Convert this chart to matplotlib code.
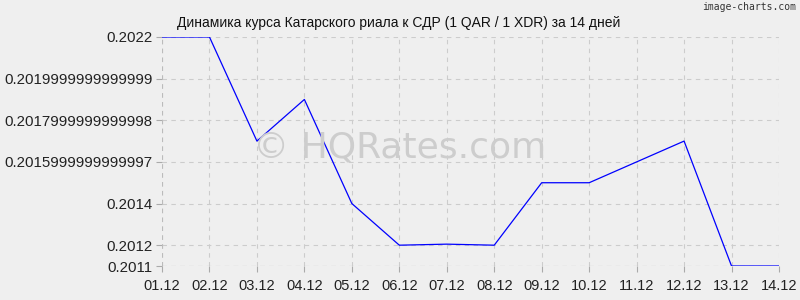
import matplotlib
matplotlib.use("Agg")
import matplotlib.pyplot as plt

# data
dates = ["01.12", "02.12", "03.12", "04.12", "05.12", "06.12", "07.12",
         "08.12", "09.12", "10.12", "11.12", "12.12", "13.12", "14.12"]
rates = [0.2022, 0.2022, 0.2017, 0.2019, 0.2014, 0.2012, 0.201205,
         0.2012, 0.2015, 0.20150, 0.2016, 0.2017, 0.2011, 0.2011]
ytick_vals = [0.2011, 0.2012, 0.2014, 0.2016, 0.2018, 0.2020, 0.2022]
ytick_labels = ["0.2011", "0.2012", "0.2014", "0.2015999999999997",
                "0.2017999999999998", "0.2019999999999999", "0.2022"]
title = "Динамика курса Катарского риала к СДР (1 QAR / 1 XDR) за 14 дней"

plt.rcParams['font.family'] = ['Liberation Sans', 'DejaVu Sans']
bg = "#efefef"

fig = plt.figure(figsize=(8, 3), dpi=100, facecolor=bg)
ax = fig.add_axes([0.2025, 0.1133, 0.77125, 0.7634], facecolor=bg)

x = list(range(len(dates)))
ax.plot(x, rates, color="#0000ff", lw=0.9, zorder=3)

ax.set_xlim(0, len(dates) - 1)
ax.set_ylim(0.2011, 0.2022)
ax.set_xticks(x)
ax.set_xticklabels(dates, fontsize=10.5, color="#222222")
ax.set_yticks(ytick_vals)
ax.set_yticklabels(ytick_labels, fontsize=10.8, color="#222222")

ax.grid(True, color="#cccccc", ls=(0, (4, 4)), lw=0.8)
for s in ax.spines.values():
    s.set_visible(False)
ax.tick_params(axis="y", length=4, color="#aaaaaa", pad=3)
ax.tick_params(axis="x", length=4, color="#aaaaaa", pad=5)
ax.axvline(0, color="#bbbbbb", ls=(0, (4, 4)), lw=0.8)
ax.axhline(0.2011, color="#bbbbbb", ls=(0, (4, 4)), lw=0.8)

fig.text(0.5, 0.51, "© HQRates.com", fontsize=26, color="#cdcdcd",
         ha="center", va="center", family="DejaVu Sans", zorder=0)
fig.text(0.221, 0.925, title, fontsize=10, color="#111111", ha="left", va="center")
fig.text(0.995, 0.975, "image-charts.com", fontsize=7, color="#333333",
         ha="right", va="center", family="DejaVu Sans Mono")

fig.savefig("out.png", dpi=100, facecolor=bg)
